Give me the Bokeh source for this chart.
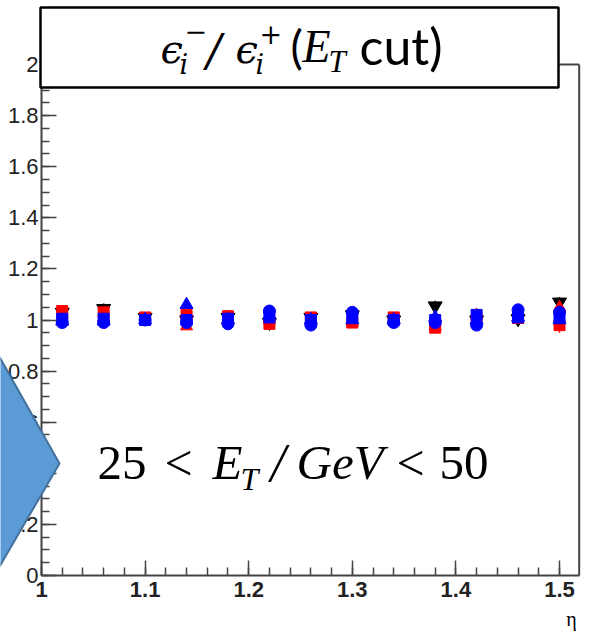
from bokeh.plotting import figure
from bokeh.models import (Range1d, SingleIntervalTicker, CustomJSTickFormatter, Label,
                          BoxAnnotation, PolyAnnotation, ColumnDataSource)
from bokeh.embed import file_html
from bokeh.resources import INLINE

# ---------------- data ----------------
eta = [1.02, 1.06, 1.10, 1.14, 1.18, 1.22, 1.26, 1.30, 1.34, 1.38, 1.42, 1.46, 1.50]
black_down = [1.03, 1.045, 1.01, 1.00, 1.01, 0.99, 1.01, 1.02, 1.00, 1.055, 1.00, 1.005, 1.07]
black_err = [0.02, 0.02, 0.01, 0.02, 0.01, 0.02, 0.01, 0.01, 0.01, 0.02, 0.01, 0.02, 0.02]
red_sq = [1.035, 1.03, 1.01, 1.02, 1.015, 0.985, 1.01, 0.99, 1.01, 0.97, 1.00, 1.01, 0.98]
red_sq_err = [0.02, 0.01, 0.01, 0.02, 0.01, 0.01, 0.01, 0.01, 0.01, 0.01, 0.02, 0.01, 0.03]
red_tri = [1.02, 1.01, 1.00, 0.975, 1.00, 1.00, 1.00, 0.99, 1.00, 0.975, 1.02, 1.00, 1.05]
blue_circ = [0.99, 0.99, 1.00, 0.99, 0.985, 1.035, 0.98, 1.03, 0.99, 0.99, 0.98, 1.04, 1.03]
blue_sq = [1.005, 1.005, 1.00, 1.00, 1.005, 1.01, 1.00, 1.01, 1.00, 1.00, 1.02, 1.01, 1.01]
blue_tri = [0.995, 0.995, 1.00, 1.06, 1.00, 1.02, 1.00, 1.00, 1.00, 1.01, 1.00, 1.01, 1.00]
blue_err = [0.02, 0.02, 0.01, 0.02, 0.01, 0.02, 0.01, 0.01, 0.01, 0.01, 0.02, 0.02, 0.02]

x_label = "η"
title_cut = "cut)"
range_text = ["25", "<", "E", "T", "/", "GeV", "<", "50"]

# axis extents (data)
X0, X1 = 1.0, 1.519
Y0, Y1 = 0.0, 2.0

# ---------------- layout (canvas px) ----------------
W, H = 597, 634
FL, FR, FT, FB = 41, 579, 64, 575   # ROOT frame edges in canvas px
KX = (559 - FL) / 0.5               # px per unit eta
KY = (FB - FT) / (Y1 - Y0)          # px per unit ratio

p = figure(width=W, height=H, output_backend="svg", toolbar_location=None,
           x_range=Range1d(X0 - FL / KX, X0 + (W - FL) / KX),
           y_range=Range1d(Y0 - (H - FB) / KY, Y0 + FB / KY),
           min_border_left=0, min_border_right=0, min_border_top=0, min_border_bottom=0)
p.grid.visible = False
p.background_fill_color = "white"
p.border_fill_color = "white"
p.outline_line_color = None

fmt = CustomJSTickFormatter(code="return (Math.round(tick*100)/100).toString();")
p.xaxis.ticker = SingleIntervalTicker(interval=0.1, num_minor_ticks=5)
p.yaxis.ticker = SingleIntervalTicker(interval=0.2, num_minor_ticks=4)
p.xaxis.fixed_location = Y0
p.yaxis.fixed_location = X0
p.xaxis.bounds = (X0, X1)
p.yaxis.bounds = (Y0, Y1)
for ax in (p.xaxis[0], p.yaxis[0]):
    ax.formatter = fmt
    ax.axis_line_color = "#444444"
    ax.axis_line_width = 2
    ax.major_tick_line_color = "#444444"
    ax.minor_tick_line_color = "#444444"
    ax.major_tick_line_width = 1.5
    ax.minor_tick_line_width = 1.5
    ax.major_tick_in = 15
    ax.major_tick_out = 0
    ax.minor_tick_in = 8
    ax.minor_tick_out = 0
    ax.major_label_text_font = "Liberation Sans"
    ax.major_label_text_font_size = "22px"
    ax.major_label_text_color = "#222222"
p.xaxis.major_label_text_font_style = "bold"
p.xaxis.major_label_standoff = 6
p.yaxis.major_label_standoff = 3

# frame lines (right and top)
p.line([X1, X1], [Y0, Y1], line_color="#444444", line_width=2)
p.line([X0, X1], [Y1, Y1], line_color="#444444", line_width=2)

# ---------------- data marks ----------------
def seg(vals, errs):
    return dict(x0=eta, x1=eta, y0=[v - e for v, e in zip(vals, errs)],
                y1=[v + e for v, e in zip(vals, errs)])

p.segment(source=ColumnDataSource(seg(black_down, black_err)), x0="x0", y0="y0", x1="x1", y1="y1",
          line_color="black", line_width=1.5)
p.scatter(eta, black_down, marker="inverted_triangle", size=14, color="black")
p.segment(source=ColumnDataSource(seg(red_sq, red_sq_err)), x0="x0", y0="y0", x1="x1", y1="y1",
          line_color="red", line_width=1.5)
p.scatter(eta, red_sq, marker="square", size=11, color="red")
p.scatter(eta, red_tri, marker="triangle", size=12, color="red")
p.segment(source=ColumnDataSource(seg(blue_circ, blue_err)), x0="x0", y0="y0", x1="x1", y1="y1",
          line_color="blue", line_width=1.5)
p.scatter(eta, blue_sq, marker="square", size=11, color="blue")
p.scatter(eta, blue_circ, marker="circle", size=12, color="blue")
p.scatter(eta, blue_tri, marker="triangle", size=13, color="blue")

# ---------------- overlays (screen coords, frame == whole canvas) ----------------
def sx(cx):
    return cx

def sy(cy):
    return H - cy

BASE_K = 0.36   # empirical baseline correction for Label text

def lab(text, cx, cy, font, size, style="normal", align="left"):
    p.add_layout(Label(x=sx(cx), y=sy(cy) + BASE_K * size, x_units="screen", y_units="screen",
                       text=text, text_font=font, text_font_size=f"{size}px",
                       text_font_style=style, text_align=align, text_baseline="alphabetic",
                       text_color="black"))

# title box
p.add_layout(BoxAnnotation(left=sx(40), right=sx(558), top=sy(7), bottom=sy(87),
                           left_units="screen", right_units="screen",
                           top_units="screen", bottom_units="screen",
                           fill_color="white", fill_alpha=1.0,
                           line_color="black", line_width=2.5, line_alpha=1.0))

MF = "DejaVu Serif"
lab("ϵ", 160, 63, MF, 40, "italic")
lab("i", 179, 74, MF, 27, "italic")
lab("−", 184, 40, MF, 27)
lab("/", 206, 66, MF, 44, "italic")
lab("ϵ", 235, 63, MF, 40, "italic")
lab("i", 255, 74, MF, 27, "italic")
lab("+", 259, 43, MF, 27)
lab("(", 290, 63, "Lato", 46)
lab("E", 302, 63, "Liberation Serif", 46, "italic")
lab("T", 328, 72, "Liberation Serif", 31, "italic")
lab(title_cut, 359, 63, "Lato", 50)

# blue arrow
p.add_layout(PolyAnnotation(xs=[sx(-12), sx(59), sx(-12)], ys=[sy(337), sy(463), sy(585)],
                            xs_units="screen", ys_units="screen",
                            fill_color="#5B9BD5", fill_alpha=1.0,
                            line_color="#41719C", line_width=2, line_alpha=1.0))

# range text
SF = "Liberation Serif"
lab(range_text[0], 97, 480, SF, 49)
lab(range_text[1], 164, 480, SF, 50)
lab(range_text[2], 212, 480, SF, 49, "italic")
lab(range_text[3], 240, 490, SF, 32, "italic")
lab(range_text[4], 270, 482, SF, 54, "italic")
lab(range_text[5], 296, 480, SF, 49, "italic")
lab(range_text[6], 396, 480, SF, 50)
lab(range_text[7], 439, 480, SF, 49)

# eta axis label
lab(x_label, 571, 626, "Liberation Serif", 20, "normal", "center")

open("out.html", "w").write(file_html(p, INLINE))
